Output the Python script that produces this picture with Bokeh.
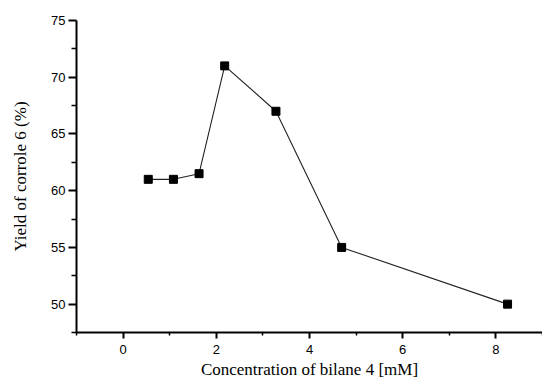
from bokeh.plotting import figure
from bokeh.models import Range1d, FixedTicker
from bokeh.embed import file_html
from bokeh.resources import INLINE

conc = [0.54, 1.08, 1.63, 2.18, 3.28, 4.69, 8.25]
yield_pct = [61.0, 61.0, 61.5, 71.0, 67.0, 55.0, 50.0]
x_ticks = [0, 2, 4, 6, 8]
x_minor = [-1, 1, 3, 5, 7, 9]
y_ticks = [50, 55, 60, 65, 70, 75]
y_minor = [47.5, 52.5, 57.5, 62.5, 67.5, 72.5]

p = figure(width=542, height=381, output_backend="svg", toolbar_location=None,
           x_range=Range1d(-1, 9), y_range=Range1d(47.5, 75),
           min_border_left=76, min_border_right=0, min_border_top=20, min_border_bottom=49)
p.outline_line_color = None
p.xgrid.visible = False
p.ygrid.visible = False
p.background_fill_color = "white"
p.border_fill_color = "white"

p.line(conc, yield_pct, line_color="#222222", line_width=1.1)
p.scatter(conc, yield_pct, marker="square", size=8, fill_color="black", line_color="black")

for ax in (p.xaxis[0], p.yaxis[0]):
    ax.axis_line_width = 2
    ax.axis_line_color = "black"
    ax.major_tick_line_width = 2
    ax.minor_tick_line_width = 1.5
    ax.major_tick_in = 0
    ax.minor_tick_in = 0
    ax.major_label_text_font = "Liberation Sans"
    ax.major_label_text_font_size = "13px"
    ax.major_label_text_color = "black"
    ax.axis_label_text_font = "Liberation Serif"
    ax.axis_label_text_font_size = "17px"
    ax.axis_label_text_font_style = "normal"
    ax.axis_label_text_color = "black"

p.xaxis.ticker = FixedTicker(ticks=x_ticks, minor_ticks=x_minor)
p.yaxis.ticker = FixedTicker(ticks=y_ticks, minor_ticks=y_minor)
p.xaxis.major_tick_out = 6
p.xaxis.minor_tick_out = 3
p.yaxis.major_tick_out = 8
p.yaxis.minor_tick_out = 5
p.xaxis.major_label_standoff = 6
p.yaxis.major_label_standoff = 3
p.xaxis.axis_label = "Concentration of bilane 4 [mM]"
p.yaxis.axis_label = "Yield of corrole 6 (%)"
p.xaxis.axis_label_standoff = 3
p.yaxis.axis_label_standoff = 18

open("out.html", "w").write(file_html(p, INLINE))
